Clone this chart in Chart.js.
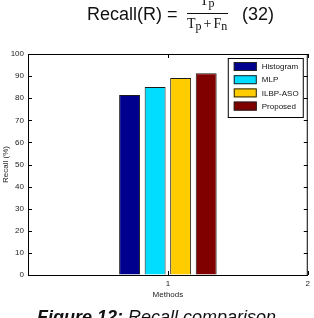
<!DOCTYPE html>
<html>
<head>
<meta charset="utf-8">
<script src="https://cdn.jsdelivr.net/npm/chart.js@4/dist/chart.umd.min.js"></script>
<style>
  html, body { margin: 0; padding: 0; background: #fff; }
  #wrap { position: relative; width: 314px; height: 318px; overflow: hidden; font-family: "Liberation Sans", Arial, sans-serif; color: #111; }
  #c { position: absolute; left: 0; top: 0; }
  .big { position: absolute; font-size: 18px; line-height: 18px; white-space: nowrap; }
  .ser { position: absolute; font-family: "Liberation Serif", "DejaVu Serif", serif; font-size: 14px; line-height: 14px; white-space: nowrap; }
  .ser sub { font-size: 12px; vertical-align: -2px; }
  .ser .op { margin: 0 2px; }
  #bar { position: absolute; left: 187px; top: 13px; width: 41px; height: 1px; background: #111; }
</style>
</head>
<body>
<div id="wrap">
  <canvas id="c" width="314" height="318"></canvas>
  <div class="big" style="left:87px; top:5px;">Recall(R) =</div>
  <div class="ser" style="left:200px; top:-6px;">T<sub>p</sub></div>
  <div id="bar"></div>
  <div class="ser" style="left:187px; top:17px;">T<sub>p</sub><span class="op">+</span>F<sub>n</sub></div>
  <div class="big" style="left:242px; top:5px;">(32)</div>
  <div class="big" style="left:37px; top:308px;"><b><i>Figure 12:</i></b> <i>Recall comparison</i></div>
</div>
<script>
// values
const methods = ['Histogram', 'MLP', 'ILBP-ASO', 'Proposed'];
const recall = [81.4, 85.1, 89.1, 91.3];
const groupPos = 1;
const colors = ['#00008F', '#00DDFF', '#FFCC00', '#800000'];

// box round the plot with inward ticks, like matlab
const frame = {
  id: 'frame',
  afterDatasetsDraw(chart) {
    const { ctx, chartArea: a, scales: { x, y } } = chart;
    ctx.save();
    ctx.strokeStyle = '#000';
    ctx.lineWidth = 1;
    ctx.beginPath();
    ctx.moveTo(a.left, a.top + 0.5); ctx.lineTo(a.right, a.top + 0.5);
    ctx.moveTo(a.right - 0.5, a.top); ctx.lineTo(a.right - 0.5, a.bottom);
    y.ticks.forEach(t => {
      const py = Math.round(y.getPixelForValue(t.value)) + 0.5;
      ctx.moveTo(a.left, py); ctx.lineTo(a.left + 4, py);
      ctx.moveTo(a.right, py); ctx.lineTo(a.right - 4, py);
    });
    x.ticks.forEach(t => {
      const px = Math.round(x.getPixelForValue(t.value)) + 0.5;
      ctx.moveTo(px, a.bottom); ctx.lineTo(px, a.bottom - 4);
      ctx.moveTo(px, a.top); ctx.lineTo(px, a.top + 4);
    });
    ctx.stroke();

    // legend
    const bx = a.right - 80, by = a.top + 4, bw = 75, bh = 59;
    ctx.fillStyle = '#fff';
    ctx.fillRect(bx, by, bw, bh);
    ctx.strokeRect(bx + 0.5, by + 0.5, bw, bh);
    ctx.font = '8px "Liberation Sans", Arial, sans-serif';
    ctx.textBaseline = 'middle';
    chart.data.datasets.forEach((ds, i) => {
      const ry = by + 4 + i * 13.2;
      ctx.fillStyle = ds.backgroundColor;
      ctx.fillRect(bx + 6, ry, 23, 9);
      ctx.strokeStyle = '#222';
      ctx.strokeRect(bx + 6.5, ry + 0.5, 22, 8);
      ctx.fillStyle = '#111';
      ctx.fillText(ds.label, bx + 34, ry + 5);
    });
    ctx.restore();
  }
};

new Chart(document.getElementById('c'), {
  type: 'bar',
  data: {
    datasets: methods.map((m, i) => ({
      label: m,
      data: [{ x: groupPos, y: recall[i] }],
      backgroundColor: colors[i],
      borderColor: '#1a1a1a',
      borderWidth: 1,
      barPercentage: 0.82,
      categoryPercentage: 0.73
    }))
  },
  options: {
    responsive: false,
    animation: false,
    devicePixelRatio: 1,
    layout: { padding: { top: 54, right: 6, bottom: 18, left: 0 } },
    plugins: { legend: { display: false }, tooltip: { enabled: false } },
    scales: {
      x: {
        type: 'linear',
        min: 0, max: 2,
        offset: false,
        afterFit: s => { s.height = 25; },
        grid: { drawOnChartArea: false, drawTicks: false, offset: false },
        border: { color: '#000', width: 1 },
        ticks: {
          stepSize: 1, padding: 4, color: '#222',
          font: { size: 8, family: '"Liberation Sans", Arial, sans-serif' },
          callback: v => v === 0 ? '' : v
        },
        title: { display: true, text: 'Methods', color: '#222', padding: { top: 0, bottom: 0 },
          font: { size: 8, family: '"Liberation Sans", Arial, sans-serif' } }
      },
      y: {
        min: 0, max: 100,
        afterFit: s => { s.width = 28; },
        grid: { drawOnChartArea: false, drawTicks: false },
        border: { color: '#000', width: 1 },
        ticks: {
          stepSize: 10, padding: 4, color: '#222',
          font: { size: 8, family: '"Liberation Sans", Arial, sans-serif' }
        },
        title: { display: true, text: 'Recall (%)', color: '#222', padding: { top: 1, bottom: 0 },
          font: { size: 8, family: '"Liberation Sans", Arial, sans-serif' } }
      }
    }
  },
  plugins: [frame]
});
</script>
</body>
</html>
